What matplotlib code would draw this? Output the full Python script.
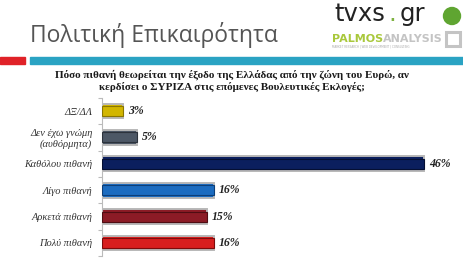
import matplotlib.pyplot as plt
from matplotlib.patches import Rectangle, Circle
import numpy as np

categories = ['ΔΞ/ΔΛ', 'Δεν έχω γνώμη\n(αυθόρμητα)', 'Καθόλου πιθανή',
              'Λίγο πιθανή', 'Αρκετά πιθανή', 'Πολύ πιθανή']
values = [3, 5, 46, 16, 15, 16]
colors = ['#d2b600', '#4d5866', '#0b1f5e', '#1c6cc0', '#8c1b26', '#d81f1f']
edges = ['#8a7600', '#2c333c', '#050f33', '#0d3f78', '#4f0d13', '#7d0c0c']

title = 'Πολιτική Επικαιρότητα'
question = ('Πόσο πιθανή θεωρείται την έξοδο της Ελλάδας από την ζώνη του Ευρώ, αν\n'
            'κερδίσει ο ΣΥΡΙΖΑ στις επόμενες Βουλευτικές Εκλογές;')

W, H = 463, 260
fig = plt.figure(figsize=(W / 100, H / 100), dpi=100)
fig.patch.set_facecolor('white')

# chart
ax = fig.add_axes([102 / W, 3.8 / H, 350 / W, 158.4 / H])
y = np.arange(len(categories))
ax.barh(y, values, height=0.56, color=colors, edgecolor='#b8b8b8', linewidth=1.4, zorder=2)
ax.barh(y, values, height=0.38, color=colors, edgecolor=edges, linewidth=0.8, zorder=3)
for yi, v in zip(y, values):
    ax.text(v + 0.7, yi, f'{v}%', fontsize=8.5, weight='bold', style='italic',
            family='Liberation Serif', color='#222222', va='center', ha='left')

ax.set_xlim(0, 50)
ax.set_ylim(len(categories) - 0.5, -0.5)
ax.set_yticks(y)
ax.set_yticklabels(categories, fontsize=7.5, style='italic', family='Liberation Serif',
                   color='#333333')
ax.set_yticks(np.arange(len(categories) + 1) - 0.5, minor=True)
ax.tick_params(axis='y', which='major', length=0, pad=7)
ax.tick_params(axis='y', which='minor', length=3, color='#bbbbbb', width=0.8)
ax.set_xticks([])
for s in ['top', 'right', 'bottom']:
    ax.spines[s].set_visible(False)
ax.spines['left'].set_color('#bbbbbb')
ax.spines['left'].set_linewidth(0.8)
ax.set_facecolor('none')

# header overlay, pixel coords from top-left
hdr = fig.add_axes([0, 0, 1, 1])
hdr.set_xlim(0, W)
hdr.set_ylim(H, 0)
hdr.axis('off')

hdr.text(30, 35, title, fontsize=16.5, color='#555555', family='Open Sans',
         va='center', ha='left')
hdr.add_patch(Rectangle((0, 57), 25, 7, color='#e02228'))
hdr.add_patch(Rectangle((30, 57), W - 30, 7, color='#2aa3c3'))

# logos
hdr.text(334, 21, 'tvxs', fontsize=17.5, color='#222222', family='DejaVu Sans',
         va='baseline', ha='left')
hdr.text(388, 21, '.', fontsize=17.5, color='#7fb241', family='DejaVu Sans',
         va='baseline', ha='left')
hdr.text(400, 21, 'gr', fontsize=17.5, color='#222222', family='DejaVu Sans',
         va='baseline', ha='left')
hdr.add_patch(Circle((452, 16), 8.5, color='#5fa531'))
p1 = hdr.text(332, 42, 'PALMOS', fontsize=8, color='#a9c83c', weight='bold',
              family='DejaVu Sans', va='baseline', ha='left')
hdr.annotate('ANALYSIS', xy=(1, 0), xycoords=p1, fontsize=8, color='#c4c4c4',
             weight='bold', family='DejaVu Sans', va='bottom', ha='left')
hdr.add_patch(Rectangle((446, 32), 14, 14, fill=False, edgecolor='#c4c4c4', linewidth=2.2))
hdr.text(332, 47, 'MARKET RESEARCH | WEB DEVELOPMENT | CONSULTING', fontsize=2,
         color='#aaaaaa', va='center', ha='left')

# question
hdr.text(232, 81, question, fontsize=8, weight='bold', family='Liberation Serif',
         color='#1a1a1a', ha='center', va='center', linespacing=1.2)

fig.savefig('out.png', dpi=100)
